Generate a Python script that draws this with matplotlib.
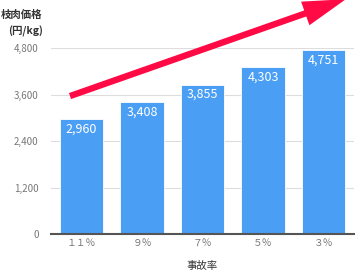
import matplotlib
matplotlib.use("Agg")
import matplotlib.pyplot as plt
from matplotlib.patches import FancyArrowPatch

plt.rcParams['font.family'] = ['Noto Sans CJK JP', 'DejaVu Sans']

categories = ["１１％", "９％", "７％", "５％", "３％"]
values = [2960, 3408, 3855, 4303, 4751]
yticks = [0, 1200, 2400, 3600, 4800]

fig = plt.figure(figsize=(3.55, 2.73), dpi=100)
ax = fig.add_axes([51.25/355, 39/273, 302.5/355, 186/273])

x = list(range(len(categories)))
ax.bar(x, values, width=0.72, color="#4a9ff5", edgecolor="white", linewidth=0.6, zorder=2)
for xi, v in zip(x, values):
    ax.text(xi, v - 90, f"{v:,}", ha="center", va="top", color="white", fontsize=9, zorder=3)

ax.set_xlim(-0.5, len(categories) - 0.5)
ax.set_ylim(0, 4800)
ax.set_yticks(yticks)
ax.set_yticklabels([f"{t:,}" for t in yticks], color="#777777", fontsize=7)
ax.set_xticks(x)
ax.set_xticklabels(categories, color="#777777", fontsize=7)
ax.tick_params(axis='y', length=0, pad=9)
ax.tick_params(axis='x', length=0, pad=3)
ax.grid(axis='y', color="#dddddd", linewidth=0.8, zorder=0)
for s in ['top', 'right', 'left']:
    ax.spines[s].set_visible(False)
ax.spines['bottom'].set_color("#555555")
ax.spines['bottom'].set_linewidth(1.5)
ax.spines['bottom'].set_zorder(4)

ax.set_xlabel("事故率", fontsize=7.5, color="#333333", labelpad=9)

fig.text(1/355, 1 - 15/273, "枝肉価格", fontsize=7.5, fontweight='bold', color="#333333", ha="left", va="center")
fig.text(8/355, 1 - 31/273, "(円/kg)", fontsize=7.5, fontweight='bold', color="#333333", ha="left", va="center")

arrow = FancyArrowPatch((-0.19, 3560), (4.37, 6060),
                        arrowstyle="simple,head_length=31,head_width=18,tail_width=4.6",
                        mutation_scale=1, color="#ff0a45", lw=0,
                        shrinkA=0, shrinkB=0, clip_on=False, zorder=5)
ax.add_patch(arrow)

fig.savefig("out.png", dpi=100)
